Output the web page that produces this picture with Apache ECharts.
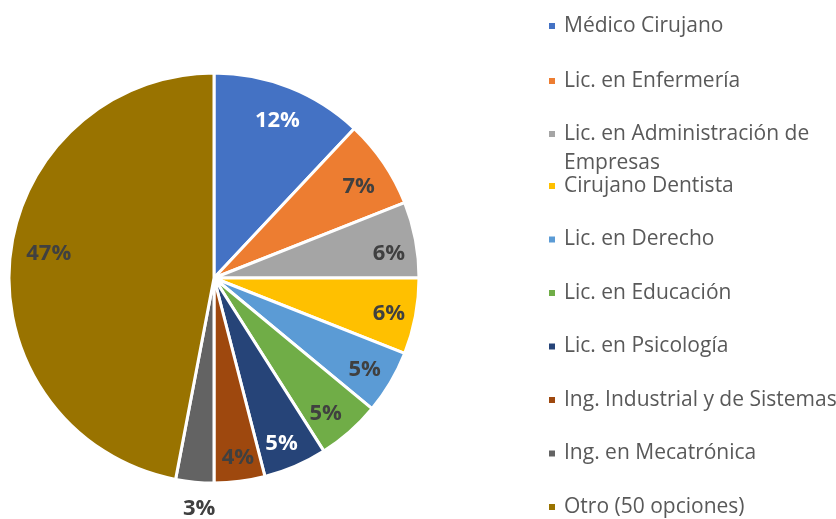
<!DOCTYPE html>
<html>
<head>
<meta charset="utf-8">
<title>Carreras</title>
<style>
  html, body { margin: 0; padding: 0; background: #fff; }
  #main { width: 836px; height: 519px; }
</style>
</head>
<body>
<div id="main"></div>
<script src="https://cdn.jsdelivr.net/npm/echarts@6/dist/echarts.min.js"></script>
<script>
var categories = ['Médico Cirujano', 'Lic. en Enfermería', 'Lic. en Administración de Empresas',
    'Cirujano Dentista', 'Lic. en Derecho', 'Lic. en Educación', 'Lic. en Psicología',
    'Ing. Industrial y de Sistemas', 'Ing. en Mecatrónica', 'Otro (50 opciones)'];
var values = [12, 7, 6, 6, 5, 5, 5, 4, 3, 47];
var colors = ['#4472C4', '#ED7D31', '#A5A5A5', '#FFC000', '#5B9BD5', '#70AD47',
    '#264478', '#9E480E', '#636363', '#997300'];
var labelColors = ['#fff', '#404040', '#404040', '#404040', '#404040', '#404040',
    '#fff', '#404040', '#404040', '#404040'];
// small nudges [dx, dy] so the labels sit where Excel's "best fit" put them
var labelNudge = [[-1, 5], [0, 7], [3, 9], [3, 3], [0, 3], [-4, 4], [-2, 5], [2, 6], [7, 0], [9, -8]];

var center = [214, 278];
var font = '"Open Sans", "DejaVu Sans", sans-serif';

function nudgePad(n) {
    var dx = n[0], dy = n[1];
    return [dy > 0 ? 2 * dy : 0, dx < 0 ? -2 * dx : 0, dy < 0 ? -2 * dy : 0, dx > 0 ? 2 * dx : 0];
}

// transparent ring, only used to put the labels at (outer / 2) from the centre
function labelRing(outer, idx) {
    return {
        type: 'pie',
        radius: [0, outer],
        center: center,
        startAngle: 90,
        silent: true,
        animation: false,
        itemStyle: { color: 'transparent', borderWidth: 0 },
        labelLine: { show: false },
        emphasis: { disabled: true },
        label: { position: 'inside' },
        data: categories.map(function (n, i) {
            return {
                name: n,
                value: values[i],
                label: {
                    show: idx.indexOf(i) >= 0,
                    formatter: '{v|{c}%}',
                    rich: {
                        v: {
                            fontFamily: font,
                            fontWeight: 'bold',
                            fontSize: 22,
                            color: labelColors[i],
                            padding: nudgePad(labelNudge[i])
                        }
                    }
                }
            };
        })
    };
}

function legendOpt(extra) {
    var base = {
        orient: 'vertical',
        left: 547,
        padding: 0,
        icon: 'rect',
        itemWidth: 8,
        itemHeight: 8,
        selectedMode: false,
        textStyle: {
            fontFamily: font,
            fontSize: 21,
            color: '#595959',
            lineHeight: 21,
            padding: [0, 0, 0, 3]
        }
    };
    return echarts.util.merge(base, extra, true);
}

var chart = echarts.init(document.getElementById('main'));
chart.setOption({
    animation: false,
    legend: [
        legendOpt({ top: 15.5, itemGap: 34, data: categories.slice(0, 2) }),
        legendOpt({
            top: 90.5,
            data: [categories[2]],
            // blank first line keeps the icon level with the first text line
            formatter: function () { return '\nLic. en Administración de\nEmpresas'; },
            textStyle: { lineHeight: 29 }
        }),
        legendOpt({ top: 175.5, itemGap: 32.5, data: categories.slice(3) })
    ],
    series: [
        {
            type: 'pie',
            radius: [0, 205],
            center: center,
            startAngle: 90,
            label: { show: false },
            labelLine: { show: false },
            emphasis: { disabled: true },
            itemStyle: { borderColor: '#fff', borderWidth: 3 },
            data: categories.map(function (n, i) {
                return { name: n, value: values[i], itemStyle: { color: colors[i] } };
            })
        },
        labelRing(344, [0, 1, 2, 3, 4, 5, 6, 7, 9]),
        labelRing(458, [8])
    ]
});
</script>
</body>
</html>
